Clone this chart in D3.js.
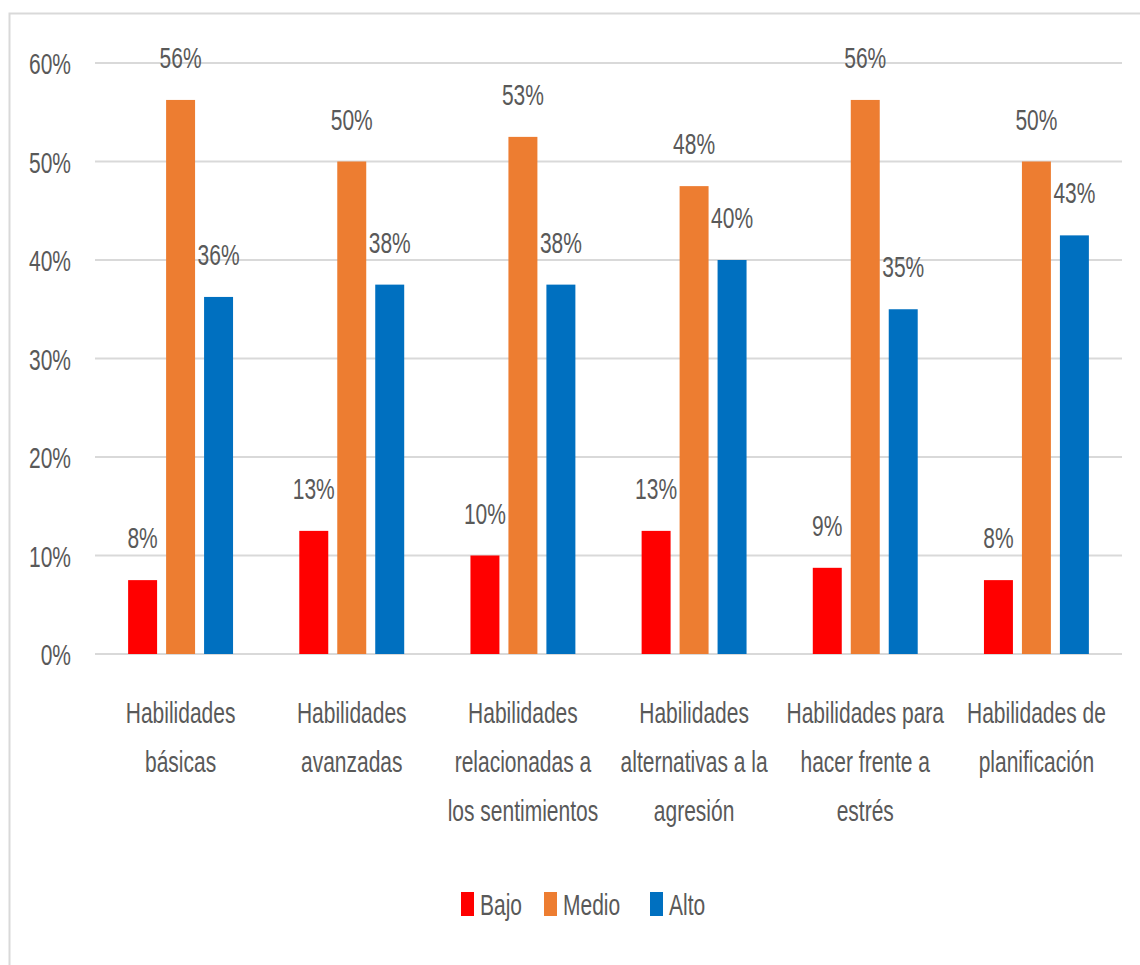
<!DOCTYPE html>
<html>
<head>
<meta charset="utf-8">
<script src="https://cdn.jsdelivr.net/npm/d3@7"></script>
<style>
  html, body { margin: 0; padding: 0; background: #fff; }
  svg { display: block; }
  text { font-family: "Liberation Sans", Arial, sans-serif; fill: #595959; }
</style>
</head>
<body>
<svg id="chart" width="1140" height="965"></svg>
<script>
const categories = [
  "Habilidades básicas",
  "Habilidades avanzadas",
  "Habilidades relacionadas a los sentimientos",
  "Habilidades alternativas a la agresión",
  "Habilidades para hacer frente a estrés",
  "Habilidades de planificación"
];
const categoryLines = [
  ["Habilidades", "básicas"],
  ["Habilidades", "avanzadas"],
  ["Habilidades", "relacionadas a", "los sentimientos"],
  ["Habilidades", "alternativas a la", "agresión"],
  ["Habilidades para", "hacer frente a", "estrés"],
  ["Habilidades de", "planificación"]
];
const seriesNames = ["Bajo", "Medio", "Alto"];
const bajo  = [0.075, 0.125, 0.100, 0.125, 0.0875, 0.075];
const medio = [0.5625, 0.500, 0.525, 0.475, 0.5625, 0.500];
const alto  = [0.3625, 0.375, 0.375, 0.400, 0.350, 0.425];
const yTicks = [0, 0.1, 0.2, 0.3, 0.4, 0.5, 0.6];
const colors = ["#FF0000", "#ED7D31", "#0070C0"];

(function () {
const seriesValues = [bajo, medio, alto];
const svg = d3.select("#chart");
const SX = 0.7;
const FS = 30;

// chart border
svg.append("rect").attr("x", 9.5).attr("y", 13.5).attr("width", 1200).attr("height", 1000)
  .attr("fill", "none").attr("stroke", "#d9d9d9").attr("stroke-width", 2);

const pLeft = 95, pRight = 1122, pTop = 63, pBottom = 654;
const y = d3.scaleLinear().domain([0, 0.6]).range([pBottom, pTop]);
const x0 = d3.scaleBand().domain(categories).range([pLeft, pRight]).paddingInner(0.387).paddingOuter(0.1935);
const x1 = d3.scaleBand().domain(seriesNames).range([0, x0.bandwidth()]).paddingInner(0.237);

function sText(g, x, yy, str, anchor) {
  const t = g.append("g").attr("transform", `translate(${x},${yy}) scale(${SX},1)`);
  t.append("text").attr("text-anchor", anchor || "middle").attr("font-size", FS).text(str);
  return t;
}

// gridlines
const grid = svg.append("g");
grid.selectAll("line").data(yTicks).join("line")
  .attr("x1", pLeft).attr("x2", pRight)
  .attr("y1", d => y(d)).attr("y2", d => y(d))
  .attr("stroke", "#d9d9d9").attr("stroke-width", 2);

// y labels
const yl = svg.append("g");
yTicks.forEach(t => sText(yl, 71, y(t) + 11, d3.format(".0%")(t), "end"));

// bars
const groups = svg.append("g").selectAll("g").data(categories).join("g")
  .attr("transform", d => `translate(${x0(d)},0)`);
groups.each(function(cat, ci) {
  const g = d3.select(this);
  seriesNames.forEach((s, si) => {
    const v = seriesValues[si][ci];
    g.append("rect")
      .attr("x", x1(s)).attr("width", x1.bandwidth())
      .attr("y", y(v)).attr("height", y(0) - y(v))
      .attr("fill", colors[si]);
    sText(g, x1(s) + x1.bandwidth() / 2, y(v) - 32, d3.format(".0%")(v), "middle");
  });
});

// category labels
const xl = svg.append("g");
categories.forEach((c, ci) => {
  const cx = x0(c) + x0.bandwidth() / 2;
  categoryLines[ci].forEach((ln, li) => sText(xl, cx, 723 + li * 49, ln, "middle"));
});

// legend
const legend = svg.append("g");
const legendX = [461, 544, 650];
seriesNames.forEach((s, si) => {
  legend.append("rect").attr("x", legendX[si]).attr("y", 892).attr("width", 13).attr("height", 24).attr("fill", colors[si]);
  sText(legend, legendX[si] + 19, 915, s, "start");
});
})();
</script>
</body>
</html>
